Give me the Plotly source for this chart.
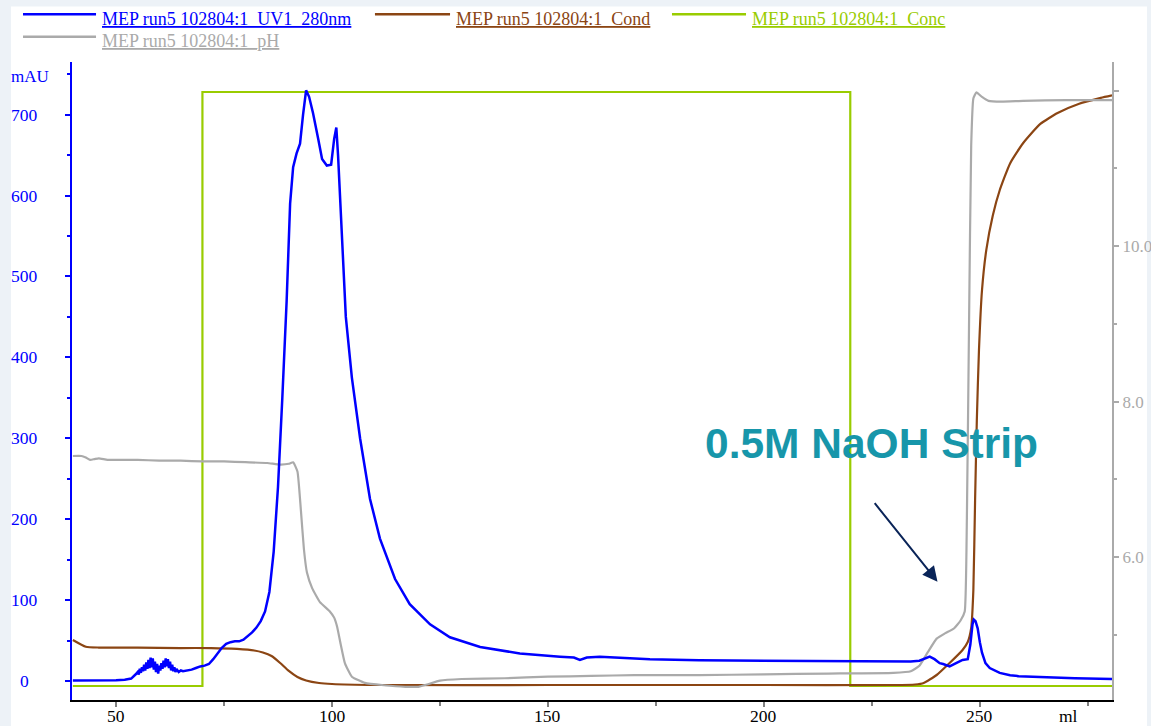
import plotly.graph_objects as go

# ---- chromatogram run data (volume in ml) ----
uv_ml = [40, 45, 50, 52, 53.5, 54.5, 55, 55.25, 55.5, 55.75, 56.0, 56.25, 56.5, 56.75, 57.0,
         57.25, 57.5, 57.75, 58.0, 58.25, 58.5, 58.75, 59.0, 59.25, 59.5, 59.75, 60.0, 60.25,
         60.5, 60.75, 61.0, 61.25, 61.5, 61.75, 62.0, 62.25, 62.5, 62.75, 63.0, 63.25, 63.5,
         63.75, 64.0, 64.5, 65.0, 65.5, 66.5, 67.5, 68.5, 69.5, 70.5, 71.5,
         72.5, 73.5, 74.5, 75.5, 76.5, 77.5, 78.5, 79.5, 80.5, 81.5, 82.5, 83.5, 84.5, 85.5,
         86.5, 87.5, 88.5, 89.5, 90.3, 91, 91.8, 92.6, 93.3, 94, 94.7, 95.6, 96.8, 97.7, 98.8,
         99.8, 100.5, 101, 101.4, 102.3, 103.2, 104.6, 106.5, 108.8, 111.1, 114.6, 118, 122.7,
         127.3, 134.3, 143.5, 152.8, 156, 157.4, 159, 162, 168, 173.6, 185, 200, 215, 230, 234,
         236, 237.5, 238.4, 239.5, 240.7, 241.5, 243, 244.5, 246, 247.2, 247.8, 248.3, 248.6,
         249.0, 249.5, 250.0, 250.5, 251.3, 252.3, 254.6, 257, 259, 263, 266, 272, 280.6]
uv_mau = [0.5, 0.5, 1, 1.5, 3, 8, 11, 8, 15, 10, 17, 12, 20, 13, 23, 15,
          26, 16, 29, 17, 28, 14, 24, 11, 21, 9, 19, 13, 22, 15,
          25, 17, 28, 18, 27, 16, 24, 13, 20, 12, 17, 11, 15, 11, 13, 12, 13, 14,
          16, 18, 19, 21,
          27, 34, 41, 46, 48, 49, 49, 51, 55, 60, 66, 74, 86, 110,
          160, 240, 350, 470, 590, 635, 652, 664, 700, 730, 722, 702, 670, 645, 637,
          638, 670, 684, 650, 540, 450, 375, 300, 225, 176, 126, 95, 70,
          54, 42, 34, 30, 29, 26, 29, 30, 28, 27, 25.5, 25, 24.5, 24, 24,
          25, 28, 30, 27, 22, 21, 18, 22, 26, 27, 45, 70, 76,
          74, 65, 48, 35, 22, 16, 10, 7, 6, 5, 4.5, 3.5, 2.5]

cond_ml = [40, 43, 46, 55, 65, 72, 78, 82, 84, 86, 88, 90, 92, 94, 97, 100, 110, 150, 200,
           230, 235, 237, 240, 243, 246, 247.2, 248.0, 248.5, 248.9, 249.3, 249.8, 250.5,
           251.5, 253, 254.6, 257, 260, 264, 268, 273, 278, 280.6]
cond_ms = [5.36, 4.56, 4.46, 4.46, 4.40, 4.40, 4.29, 4.11, 3.87, 3.45, 2.62, 1.67, 0.95, 0.54,
           0.24, 0.12, 0.0, 0.0, 0.0, 0.0, 0.06, 0.24, 1.19, 2.62, 4.17, 5.12, 6.8, 11.3, 22.0,
           31.5, 39.9, 47.0, 51.8, 55.9, 58.9, 62.1, 64.5, 66.8, 68.1, 69.2, 69.9, 70.2]

conc_ml = [40, 70, 70, 220, 220, 280.6]
conc_pct = [0, 0, 100, 100, 0, 0]

ph_ml = [40, 42, 43, 44, 45, 46, 48, 50, 55, 60, 65, 70, 75, 80, 85, 88, 90, 91, 92, 92.8,
         93.5, 94.2, 95.4, 97.2, 99.5, 100.5, 101.2, 102, 103, 104.6, 107.6, 112, 117, 120,
         122, 125, 130, 140, 150, 160, 170, 185, 200, 215, 230, 234, 236, 238, 240, 242, 244,
         245.5, 246.5, 247.0, 247.5, 248.0, 248.5, 249.2, 250.5, 252, 255, 260, 270, 280.6]
ph_val = [7.30, 7.30, 7.28, 7.25, 7.26, 7.27, 7.25, 7.25, 7.25, 7.24, 7.24, 7.23, 7.23, 7.22,
          7.21, 7.19, 7.20, 7.22, 7.10, 6.6, 6.1, 5.8, 5.6, 5.42, 5.3, 5.22, 5.1, 4.88, 4.63,
          4.46, 4.38, 4.35, 4.33, 4.33, 4.36, 4.41, 4.43, 4.44, 4.46, 4.47, 4.48, 4.48, 4.49,
          4.50, 4.51, 4.53, 4.60, 4.78, 4.95, 5.02, 5.08, 5.18, 5.3, 6.5, 9.0, 11.3, 11.9,
          11.98, 11.92, 11.87, 11.86, 11.87, 11.88, 11.88]

x_ticks = [50, 100, 150, 200, 250]
x_minor = [75, 125, 175, 225, 275]
uv_ticks = [0, 100, 200, 300, 400, 500, 600, 700]
uv_minor = [50, 150, 250, 350, 450, 550, 650, 750]
ph_ticks = [6, 8, 10, 12]
ph_labels = ["6.0", "8.0", "10.0", ""]
ph_minor = [5, 7, 9, 11]

series_names = ["MEP run5 102804:1_UV1_280nm", "MEP run5 102804:1_Cond",
                "MEP run5 102804:1_Conc", "MEP run5 102804:1_pH"]

BLUE = "#0000ff"
BROWN = "#8b4513"
GREEN = "#99cc00"
GRAY = "#aaaaaa"
SERIF = "Liberation Serif"

fig = go.Figure()
fig.add_trace(go.Scatter(x=conc_ml, y=conc_pct, yaxis="y", mode="lines",
                         line=dict(color=GREEN, width=2.2), name=series_names[2]))
fig.add_trace(go.Scatter(x=cond_ml, y=cond_ms, yaxis="y2", mode="lines",
                         line=dict(color=BROWN, width=2.2, shape="spline", smoothing=0.5),
                         name=series_names[1]))
fig.add_trace(go.Scatter(x=ph_ml, y=ph_val, yaxis="y3", mode="lines",
                         line=dict(color=GRAY, width=2.2, shape="spline", smoothing=0.4),
                         name=series_names[3]))
fig.add_trace(go.Scatter(x=uv_ml, y=uv_mau, yaxis="y4", mode="lines",
                         line=dict(color=BLUE, width=2.5), name=series_names[0]))

fig.update_traces(showlegend=False, hoverinfo="skip")

fig.update_layout(
    width=1151, height=726,
    margin=dict(l=72, r=39, t=62, b=26, autoexpand=False),
    paper_bgcolor="#edf2f7",
    plot_bgcolor="white",
    font=dict(family=SERIF, size=17, color="black"),
    xaxis=dict(range=[39.8, 280.6], showgrid=False, zeroline=False, automargin=False,
               showline=True, linecolor="black", linewidth=2,
               ticks="outside", ticklen=5, tickwidth=2, tickcolor="#808080",
               tickmode="array", tickvals=x_ticks, showticklabels=False,
               minor=dict(tickmode="array", tickvals=x_minor, ticks="outside",
                          ticklen=4, tickwidth=2, tickcolor="#808080")),
    yaxis=dict(range=[-2.357, 105.05], visible=False, showgrid=False, zeroline=False,
               automargin=False),
    yaxis2=dict(range=[-1.786, 74.17], overlaying="y", visible=False,
                showgrid=False, zeroline=False, automargin=False),
    yaxis3=dict(range=[4.16, 12.37], overlaying="y", side="right", automargin=False,
                showgrid=False, zeroline=False,
                showline=True, linecolor=GRAY, linewidth=2,
                ticks="outside", ticklen=5, tickwidth=2, tickcolor=GRAY,
                tickmode="array", tickvals=ph_ticks, ticktext=ph_labels,
                tickfont=dict(family=SERIF, size=17, color=GRAY),
                minor=dict(tickmode="array", tickvals=ph_minor, ticks="outside",
                           ticklen=3, tickwidth=2, tickcolor=GRAY)),
    yaxis4=dict(range=[-23.5, 765], overlaying="y", side="left", automargin=False,
                showgrid=False, zeroline=False,
                showline=True, linecolor=BLUE, linewidth=2,
                ticks="outside", ticklen=5, tickwidth=2, tickcolor=BLUE,
                tickmode="array", tickvals=uv_ticks, showticklabels=False,
                minor=dict(tickmode="array", tickvals=uv_minor, ticks="outside",
                           ticklen=3, tickwidth=2, tickcolor=BLUE)),
    hovermode=False,
)

shapes = [dict(type="rect", xref="paper", yref="paper", x0=-0.0587, x1=1.0337,
               y0=-0.06, y1=1.087, fillcolor="white", line=dict(width=0), layer="below")]
annotations = []

# UV axis labels, centred in the left gutter
for v in uv_ticks:
    annotations.append(dict(xref="paper", yref="y4", x=-0.0452, y=v, text=str(v),
                            showarrow=False, xanchor="center", yanchor="middle",
                            font=dict(family=SERIF, size=17.5, color=BLUE)))
annotations.append(dict(xref="paper", yref="y4", x=-0.0404, y=747.5, text="mAU",
                        showarrow=False, xanchor="center", yanchor="middle",
                        font=dict(family=SERIF, size=17, color=BLUE)))

# volume axis labels sit just under the axis line
for v in x_ticks:
    annotations.append(dict(xref="x", yref="paper", x=v, y=-0.0251, text=str(v),
                            showarrow=False, xanchor="center", yanchor="middle",
                            font=dict(family=SERIF, size=17.5, color="black")))
annotations.append(dict(xref="x", yref="paper", x=270.5, y=-0.0251, text="ml",
                        showarrow=False, xanchor="center", yanchor="middle",
                        font=dict(family=SERIF, size=17.5, color="black")))

# legend: coloured line sample + underlined series name
legend_items = [
    (series_names[0], BLUE, -0.0471, 0.0231, 1.0749, 1.0674),
    (series_names[1], BROWN, 0.2913, 0.3635, 1.0749, 1.0674),
    (series_names[2], GREEN, 0.5769, 0.6481, 1.0749, 1.0674),
    (series_names[3], GRAY, -0.0471, 0.0231, 1.0397, 1.0329),
]
for name, col, lx0, lx1, ly, ty in legend_items:
    shapes.append(dict(type="line", xref="paper", yref="paper", x0=lx0, x1=lx1,
                       y0=ly, y1=ly, line=dict(color=col, width=2.5)))
    annotations.append(dict(xref="paper", yref="paper", x=lx1 + 0.0035, y=ty,
                            text="<u>" + name + "</u>", showarrow=False,
                            xanchor="left", yanchor="middle",
                            font=dict(family=SERIF, size=18, color=col)))

# strip step callout
annotations.append(dict(xref="x", yref="y4", x=224.9, y=294, text="<b>0.5M NaOH Strip</b>",
                        showarrow=False, xanchor="center", yanchor="middle",
                        font=dict(family="Liberation Sans", size=42.5, color="#1796aa")))
annotations.append(dict(xref="x", yref="y4", x=240.2, y=122.7, text="",
                        showarrow=True, ax=-64, ay=-80, arrowhead=2, arrowsize=1.5,
                        arrowwidth=2, arrowcolor="#0a2458", standoff=0))

fig.update_layout(shapes=shapes, annotations=annotations)

fig.write_html("out.html", config={"displayModeBar": False})
